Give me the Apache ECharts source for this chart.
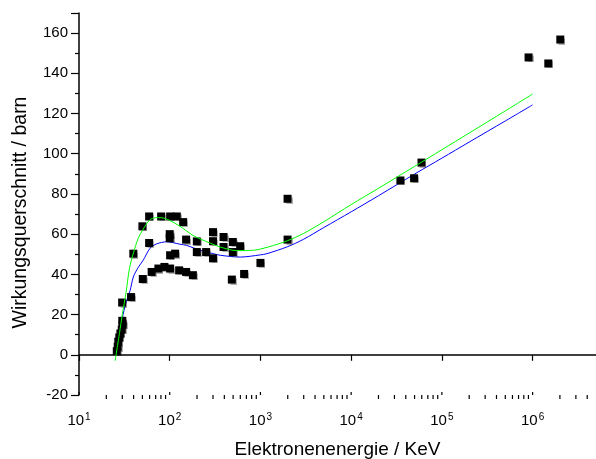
<!DOCTYPE html>
<html>
<head>
<meta charset="utf-8">
<script src="https://cdn.jsdelivr.net/npm/echarts@6/dist/echarts.min.js"></script>
<style>
  html, body { margin: 0; padding: 0; background: #fff; }
  #chart { width: 596px; height: 459px; }
</style>
</head>
<body>
<div id="chart"></div>
<script>
// Messpunkte (Energie in keV, Wirkungsquerschnitt in barn)
const pointEnergy = [26.1, 26.7, 27.1, 27.8, 28.6, 29.6, 30.3, 30.0, 29.9, 37.5,
  39.7, 50, 59.3, 80.4, 101, 119.6, 140.6, 100, 100, 59.3, 151.6, 199, 199, 252,
  101, 114.7, 50.5, 63.2, 75, 87.4, 101, 127, 151.6, 180,
  300, 300, 300, 392, 392, 496, 496, 598, 484, 661, 1000,
  1991, 1991, 34900, 49400, 59600, 903000, 1490000, 2020000];
const pointSigma = [1.8, 4.0, 6.5, 8.6, 10.6, 12.6, 15.1, 16.9, 26.0, 28.7,
  50.3, 63.9, 68.8, 68.8, 68.8, 68.8, 66, 60, 58, 55.6, 57.3, 56.4, 51.1, 51.1,
  49.5, 50.3, 37.7, 41.2, 42.9, 43.7, 42.9, 42, 41.2, 39.6,
  61, 56.5, 48, 58.6, 53.6, 56.1, 51.1, 54, 37.4, 40.2, 45.7,
  77.6, 57.3, 86.7, 87.8, 95.6, 147.9, 144.9, 156.8];

// gruene Kurve
const greenEnergy = [25, 28, 30, 33, 36, 40, 45, 51, 60, 70, 80, 100, 130, 180, 220, 280,
  360, 550, 840, 1000, 1400, 2000, 3000, 5000, 10000, 20000, 50000, 100000, 200000, 500000, 1000000];
const greenSigma = [-3, 11, 20, 31, 43, 51, 58, 62.5, 67, 68.2, 68.2, 66.8, 63.9, 59.4, 57.5, 55.5,
  53.6, 51.8, 52, 52.6, 54.4, 56.8, 60.4, 66.2, 74.7, 82.8, 93.7, 102, 110.3, 121.3, 129.7];

// blaue Kurve
const blueEnergy = [28, 30, 33, 36.6, 39.7, 45, 51, 60.7, 72, 93, 130, 154, 216, 303, 360,
  598, 1000, 1180, 2000, 3000, 5000, 10000, 20000, 50000, 100000, 200000, 500000, 1000000];
const blueSigma = [8, 18, 26, 32, 38.7, 43.5, 47, 53, 55.2, 56.2, 55, 54.4, 52, 50.3, 49.5,
  48.6, 49.7, 50.3, 53.8, 57.5, 63.3, 71.1, 79.1, 89.9, 97.8, 105.8, 116.3, 124.3];

const xMin = 10, xMax = 5e6;
const yMin = -20, yMax = 170;

document.addEventListener('DOMContentLoaded', () => {
  const chart = echarts.init(document.getElementById('chart'));
  const font = 'Arial, "Liberation Sans", sans-serif';

  const zip = (a, b) => a.map((v, i) => [v, b[i]]);

  // Striche der log-Achse: Nebenstriche bei 2..9 x 10^n nach unten,
  // Hauptstriche ragen etwas nach oben ueber die Achse
  const axisMarks = [];
  for (let p = 1; p <= 6; p++) {
    axisMarks.push([Math.pow(10, p), yMin, -3]);
    for (let m = 2; m <= 9; m++) {
      const v = m * Math.pow(10, p);
      if (v < xMax) axisMarks.push([v, yMin, 4]);
    }
  }

  const option = {
    animation: false,
    grid: { left: 79, right: 0, top: 13, bottom: 64, outerBoundsMode: 'none' },
    xAxis: {
      type: 'log',
      logBase: 10,
      min: xMin,
      max: xMax,
      name: 'Elektronenenergie / KeV',
      nameLocation: 'middle',
      nameGap: 45,
      nameTextStyle: { fontFamily: font, fontSize: 19, color: '#000' },
      axisLine: { lineStyle: { color: '#000', width: 1.5 } },
      axisTick: { length: 6, lineStyle: { color: '#000', width: 1.2 } },
      splitLine: { show: false },
      axisLabel: {
        margin: 17,
        showMaxLabel: false,
        formatter: (v) => {
          const e = Math.round(Math.log10(v));
          if (Math.abs(Math.pow(10, e) - v) > 1e-6 * v) return '';
          return '{a|10}{b|' + e + '}';
        },
        rich: {
          a: { fontFamily: font, fontSize: 15, color: '#000', lineHeight: 18 },
          b: { fontFamily: font, fontSize: 10, color: '#000', verticalAlign: 'top', lineHeight: 18, padding: [0, 0, 8, 1] }
        }
      }
    },
    yAxis: {
      type: 'value',
      min: yMin,
      max: yMax,
      interval: 20,
      name: 'Wirkungsquerschnitt / barn',
      nameLocation: 'middle',
      nameRotate: 90,
      nameGap: 48,
      nameTextStyle: { fontFamily: font, fontSize: 19.5, color: '#000', padding: [0, 17, 0, 0] },
      axisLine: { show: true, lineStyle: { color: '#000', width: 1.5 } },
      axisTick: { show: true, length: 8, lineStyle: { color: '#000', width: 1.2 } },
      minorTick: { show: true, splitNumber: 2, length: 4, lineStyle: { color: '#000', width: 1.2 } },
      splitLine: { show: false },
      axisLabel: {
        margin: 11,
        fontFamily: font,
        fontSize: 15,
        color: '#000',
        formatter: (v) => (v > 160 ? '' : String(v))
      }
    },
    series: [
      {
        name: 'achse',
        type: 'custom',
        clip: false,
        silent: true,
        data: axisMarks,
        renderItem: (params, api) => {
          const p = api.coord([api.value(0), api.value(1)]);
          return {
            type: 'line',
            shape: { x1: p[0], y1: p[1], x2: p[0], y2: p[1] + api.value(2) },
            style: { stroke: '#000', lineWidth: 1.2 }
          };
        },
        z: 5
      },
      {
        name: 'blau',
        type: 'line',
        data: zip(blueEnergy, blueSigma),
        smooth: 0.3,
        showSymbol: false,
        lineStyle: { color: '#0000ff', width: 1 },
        z: 2
      },
      {
        name: 'Messwerte',
        type: 'scatter',
        data: zip(pointEnergy, pointSigma),
        symbol: 'rect',
        symbolSize: 8,
        itemStyle: {
          color: '#000',
          opacity: 1,
          shadowColor: 'rgba(0,0,0,0.3)',
          shadowBlur: 1,
          shadowOffsetX: 1,
          shadowOffsetY: 1
        },
        z: 3
      },
      {
        name: 'gruen',
        type: 'line',
        data: zip(greenEnergy, greenSigma),
        smooth: 0.3,
        showSymbol: false,
        lineStyle: { color: '#00ff00', width: 1 },
        z: 4
      }
    ]
  };

  chart.setOption(option);
  window.addEventListener('resize', () => chart.resize());
});
</script>
</body>
</html>
